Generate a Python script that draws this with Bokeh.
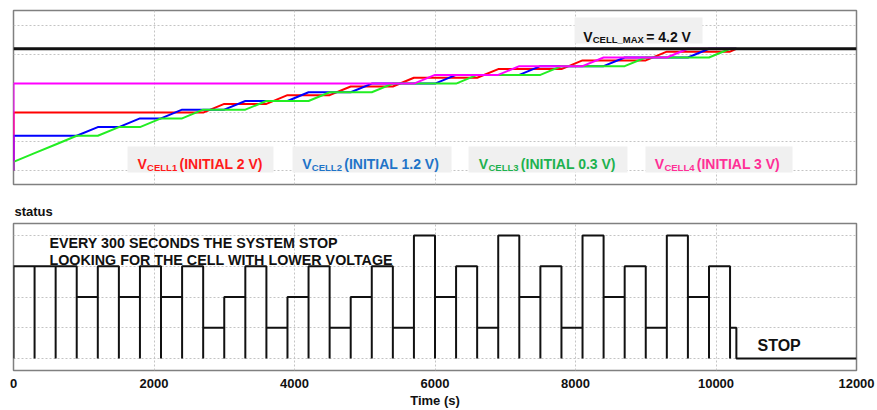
from bokeh.plotting import figure
from bokeh.layouts import column
from bokeh.models import Range1d, FixedTicker, Grid, Label, BoxAnnotation, Span
from bokeh.embed import file_html
from bokeh.resources import INLINE

# Charging schedule: time breakpoints (s); every 300 s the charger re-selects a cell
t_break = [0, 300, 600, 900, 1200, 1500, 1800, 2100, 2400, 2700, 3000, 3300,
           3600, 3900, 4200, 4500, 4800, 5100, 5400, 5700, 6000, 6300, 6600,
           6900, 7200, 7500, 7800, 8100, 8400, 8700, 9000, 9300, 9600, 9900,
           10200, 10290]

# Cell voltages (V) at each breakpoint
v_cell1 = [2.0, 2.0, 2.0, 2.0, 2.0, 2.0, 2.0, 2.0, 2.0, 2.0, 2.3, 2.3,
           2.3, 2.6, 2.6, 2.6, 2.9, 2.9, 2.9, 3.2, 3.2, 3.2, 3.2,
           3.5, 3.5, 3.5, 3.5, 3.8, 3.8, 3.8, 3.8, 4.1, 4.1, 4.1,
           4.1, 4.2]
v_cell2 = [1.2, 1.2, 1.2, 1.2, 1.5, 1.5, 1.8, 1.8, 2.1, 2.1, 2.1, 2.4,
           2.4, 2.4, 2.7, 2.7, 2.7, 3.0, 3.0, 3.0, 3.0, 3.3, 3.3,
           3.3, 3.3, 3.6, 3.6, 3.6, 3.6, 3.9, 3.9, 3.9, 3.9, 4.2,
           4.2, 4.2]
v_cell3 = [0.3, 0.6, 0.9, 1.2, 1.2, 1.5, 1.5, 1.8, 1.8, 2.1, 2.1, 2.1,
           2.4, 2.4, 2.4, 2.7, 2.7, 2.7, 3.0, 3.0, 3.0, 3.0, 3.3,
           3.3, 3.3, 3.3, 3.6, 3.6, 3.6, 3.6, 3.9, 3.9, 3.9, 3.9,
           4.2, 4.2]
v_cell4 = [3.0, 3.0, 3.0, 3.0, 3.0, 3.0, 3.0, 3.0, 3.0, 3.0, 3.0, 3.0,
           3.0, 3.0, 3.0, 3.0, 3.0, 3.0, 3.0, 3.0, 3.3, 3.3, 3.3,
           3.3, 3.6, 3.6, 3.6, 3.6, 3.9, 3.9, 3.9, 3.9, 4.2, 4.2,
           4.2, 4.2]

# Index of the cell being charged in each slot (last slot is cut short at stop)
status = [3, 3, 3, 2, 3, 2, 3, 2, 3, 1, 2, 3, 1, 2, 3, 1, 2, 3, 1, 4,
          2, 3, 1, 4, 2, 3, 1, 4, 2, 3, 1, 4, 2, 3, 1]

v_max = 4.2
t_end = 12000
x_ticks = [0, 2000, 4000, 6000, 8000, 10000, 12000]
v_grid = [0, 1, 2, 3, 4, 5]
status_grid = [0, 1, 2, 3, 4]

FONT = "Liberation Sans"
GRID_COLOR = "#c4c4c4"
FRAME_COLOR = "#808080"

cells = [
    ("CELL1", v_cell1, "#ff0000", "#ff1a1a", 1765),
    ("CELL2", v_cell2, "#0000ff", "#1f74c8", 4110),
    ("CELL3", v_cell3, "#22ee22", "#1db24f", 6624),
    ("CELL4", v_cell4, "#ff00ff", "#ff2f96", 9129),
]


def add_grid(p, dim, ticks):
    p.add_layout(Grid(dimension=dim, ticker=FixedTicker(ticks=ticks),
                      grid_line_color=GRID_COLOR, grid_line_dash="2 2",
                      grid_line_width=1))


def sub_label(p, x, y, y_sub, big, small, rest, color, rest_shift, size=14, sub_size=9.5):
    p.add_layout(Label(x=x, y=y, text=big, text_color=color, text_font=FONT,
                       text_font_style="bold", text_font_size=f"{size}px",
                       text_baseline="alphabetic"))
    p.add_layout(Label(x=x, y=y_sub, x_offset=9.6, text=small, text_color=color,
                       text_font=FONT, text_font_style="bold",
                       text_font_size=f"{sub_size}px", text_baseline="alphabetic"))
    p.add_layout(Label(x=x, y=y, x_offset=rest_shift, text=rest, text_color=color,
                       text_font=FONT, text_font_style="bold",
                       text_font_size=f"{size}px", text_baseline="alphabetic"))


# ---------------- top panel: cell voltages ----------------
p1 = figure(width=877, height=192, output_backend="svg", toolbar_location=None,
            x_axis_type=None, y_axis_type=None,
            x_range=Range1d(0, t_end), y_range=Range1d(-0.48, 5.52),
            min_border_left=13, min_border_right=21, min_border_top=10,
            min_border_bottom=8)
p1.outline_line_color = FRAME_COLOR
p1.outline_line_width = 1.5
p1.background_fill_color = "white"
p1.border_fill_color = "white"
add_grid(p1, 0, x_ticks[1:-1])
add_grid(p1, 1, v_grid)

for name, v, line_color, _, _ in cells:
    p1.line([0] + t_break, [0] + v, line_color=line_color, line_width=2)

p1.add_layout(Span(location=v_max, dimension="width", line_color="#111111",
                   line_width=3))

# label boxes
for left, right in [(1623, 3701), (3972, 6235), (6477, 8740), (8996, 11089)]:
    p1.add_layout(BoxAnnotation(left=left, right=right, bottom=-0.07, top=0.83,
                                fill_color="#f0f0f0", fill_alpha=1,
                                line_color=None, level="annotation"))
p1.add_layout(BoxAnnotation(left=7986, right=9808, bottom=4.38, top=5.28,
                            fill_color="#f0f0f0", fill_alpha=1,
                            line_color=None, level="annotation"))

for name, v, _, text_color, x in cells:
    sub_label(p1, x, 0.21, 0.10, "V", name, f"(INITIAL {v[0]:g} V)",
              text_color, 42)
sub_label(p1, 8109, 4.62, 4.51, "V", "CELL_MAX", f"= {v_max:g} V", "#111111", 63)

# ---------------- bottom panel: selected cell ----------------
p2 = figure(width=877, height=218, output_backend="svg", toolbar_location=None,
            y_axis_type=None,
            x_range=Range1d(0, t_end), y_range=Range1d(-0.39, 4.39),
            min_border_left=13, min_border_right=21, min_border_top=31,
            min_border_bottom=40)
p2.outline_line_color = FRAME_COLOR
p2.outline_line_width = 1.5
p2.background_fill_color = "white"
p2.border_fill_color = "white"
p2.title.text = "status"
p2.title.text_font = FONT
p2.title.text_font_size = "13px"
p2.title.text_font_style = "bold"
p2.title.align = "left"
p2.title.offset = 1
p2.title.standoff = 9
p2.title.text_color = "#111111"

p2.xaxis.ticker = FixedTicker(ticks=x_ticks)
p2.xgrid.ticker = FixedTicker(ticks=x_ticks[1:-1])
p2.xgrid.grid_line_color = GRID_COLOR
p2.xgrid.grid_line_dash = "2 2"
add_grid(p2, 1, status_grid)
ax = p2.xaxis[0]
ax.axis_line_color = None
ax.major_tick_line_color = None
ax.minor_tick_line_color = None
ax.major_tick_out = 0
ax.major_tick_in = 0
ax.major_label_standoff = 8
ax.major_label_text_font = FONT
ax.major_label_text_font_size = "13px"
ax.major_label_text_font_style = "bold"
ax.major_label_text_color = "#111111"
ax.axis_label = "Time (s)"
ax.axis_label_text_font = FONT
ax.axis_label_text_font_size = "13px"
ax.axis_label_text_font_style = "bold"
ax.axis_label_text_color = "#111111"
ax.axis_label_standoff = 2

# stepped status trace: each slot drops to zero at its boundary
xs, ys = [], []
for k, level in enumerate(status):
    t0, t1 = t_break[k], t_break[k + 1]
    xs += [t0, t0, t1, t1]
    ys += [0, level, level, 0]
xs.append(t_end)
ys.append(0)
p2.line(xs, ys, line_color="#111111", line_width=2)

for text, y in [("EVERY 300 SECONDS THE SYSTEM STOP", 3.77),
                ("LOOKING FOR THE CELL WITH LOWER VOLTAGE", 3.19)]:
    p2.add_layout(Label(x=512, y=y, text=text, text_font=FONT,
                        text_font_style="bold", text_font_size="14.3px",
                        text_color="#111111", text_baseline="alphabetic"))
p2.add_layout(Label(x=10591, y=0.41, text="STOP", text_font=FONT,
                    text_font_style="bold", text_font_size="16px",
                    text_color="#111111", text_baseline="alphabetic"))

layout = column(p1, p2)
open("out.html", "w").write(file_html(layout, INLINE))
